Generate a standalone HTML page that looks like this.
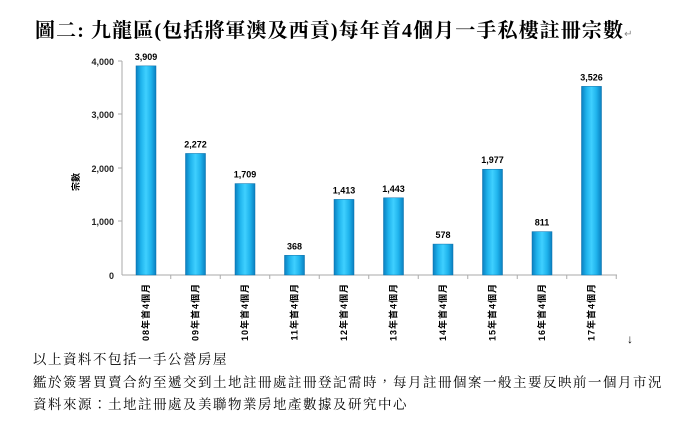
<!DOCTYPE html>
<html><head><meta charset="utf-8"><style>
body{margin:0;width:697px;height:422px;background:#fff;overflow:hidden;position:relative;font-family:"Liberation Serif","Noto Serif CJK SC",serif}
.t{position:absolute;left:35px;top:14px;font-size:20px;font-weight:bold;letter-spacing:1.1px;white-space:nowrap;color:#000}
.n{position:absolute;left:33px;font-size:13.5px;letter-spacing:1.5px;white-space:nowrap;color:#000;font-family:"Liberation Serif","Noto Serif CJK TC",serif}
</style></head><body>
<div class="t">圖二: 九龍區(包括將軍澳及西貢)每年首4個月一手私樓註冊宗數<span style="font-size:10px;color:#888;font-weight:normal">↵</span></div>
<svg width="697" height="422" style="position:absolute;left:0;top:0" font-family="Liberation Sans, Noto Sans CJK TC, sans-serif">
<defs><linearGradient id="g" x1="0" x2="1"><stop offset="0" stop-color="#0a7fc0"/><stop offset="0.25" stop-color="#1fb3ec"/><stop offset="0.5" stop-color="#3fd0ff"/><stop offset="0.75" stop-color="#1fb3ec"/><stop offset="1" stop-color="#0a7fc0"/></linearGradient></defs>
<line x1="122" y1="61" x2="122" y2="275" stroke="#aaa"/>
<line x1="122" y1="275" x2="617" y2="275" stroke="#aaa"/>
<g font-size="9" font-weight="bold" text-anchor="end" fill="#222">
<text x="114" y="65">4,000</text><text x="114" y="118">3,000</text><text x="114" y="172">2,000</text><text x="114" y="225">1,000</text><text x="114" y="279">0</text></g>
<g stroke="#aaa"><line x1="118" y1="61" x2="122" y2="61"/><line x1="118" y1="114" x2="122" y2="114"/><line x1="118" y1="168" x2="122" y2="168"/><line x1="118" y1="221" x2="122" y2="221"/></g>
<text x="0" y="0" font-size="9" font-weight="bold" transform="translate(79,182) rotate(-90)" text-anchor="middle">宗數</text>
<g id="bars"></g>
<text x="627" y="343" font-size="12">↓</text>
</svg>
<div class="n" style="top:348px">以上資料不包括一手公營房屋</div>
<div class="n" style="top:371px">鑑於簽署買賣合約至遞交到土地註冊處註冊登記需時，每月註冊個案一般主要反映前一個月市況</div>
<div class="n" style="top:393px">資料來源：土地註冊處及美聯物業房地產數據及研究中心</div>
<script>
var v=[3909,2272,1709,368,1413,1443,578,1977,811,3526],s="";
for(var i=0;i<10;i++){var cx=146+i*49.5,h=v[i]*0.0535,y=275-h;
s+='<rect x="'+(cx-10)+'" y="'+y+'" width="20" height="'+h+'" fill="url(#g)" stroke="#0a6fa8" stroke-width="0.5"/>';
s+='<text x="'+cx+'" y="'+(y-6)+'" font-size="9" font-weight="bold" text-anchor="middle">'+v[i].toLocaleString("en-US")+'</text>';
s+='<text font-size="9" font-weight="bold" letter-spacing="1" text-anchor="end" transform="translate('+(cx+3)+',283) rotate(-90)">'+(i<2?'0':'')+(8+i)+'年首4個月</text>';
s+='<line x1="'+(cx+24.75)+'" y1="275" x2="'+(cx+24.75)+'" y2="279" stroke="#aaa"/>';}
document.getElementById("bars").innerHTML=s;
</script>
</body></html>
